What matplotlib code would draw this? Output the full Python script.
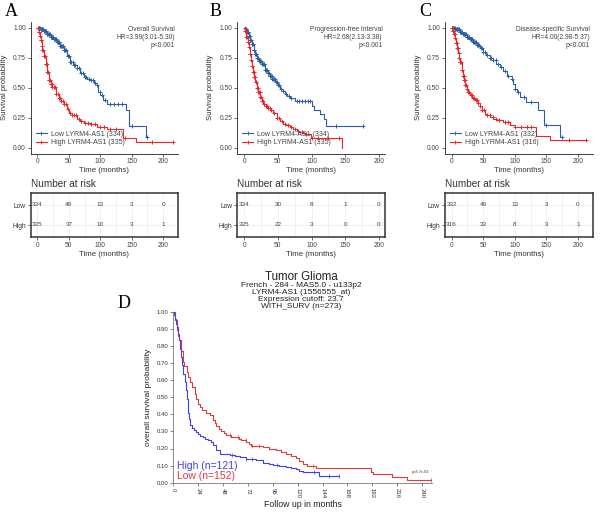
import numpy as np
import matplotlib
matplotlib.use("Agg")
import matplotlib.pyplot as plt
from matplotlib.lines import Line2D

plt.rcParams['font.family'] = ['Liberation Sans', 'DejaVu Sans']

W, H = 600, 512
fig = plt.figure(figsize=(6, 5.12), dpi=100)

def px_axes(l, t, r, b):
    return fig.add_axes([l / W, 1 - b / H, (r - l) / W, (b - t) / H])

BLUE = '#2a5fa3'
RED = '#e8262b'

# ---------------- DATA ----------------
# Panel A : Overall survival
A_low_t = [0, 5, 10, 15, 21, 26, 31, 36, 42, 47, 52, 57, 63, 68, 74, 79, 84, 90, 95, 97, 100, 105, 110, 141, 146, 173]
A_low_s = [1.0, 0.985, 0.97, 0.95, 0.925, 0.905, 0.883, 0.85, 0.81, 0.76, 0.715, 0.69, 0.66, 0.625, 0.59, 0.575, 0.56, 0.54, 0.52, 0.46, 0.435, 0.40, 0.366, 0.31, 0.18, 0.087]
A_low_end = 175
A_low_cens = [1, 2, 3, 4, 5, 6, 7, 8, 9, 10, 11, 12, 13, 14, 15, 16, 17, 18, 19, 20, 21, 22, 23, 24, 25, 26, 27, 28, 29, 30,
              31, 32, 33, 34, 35, 36, 37, 38, 39, 40, 41, 42, 43, 44, 46, 48, 50, 52, 54, 56, 58, 60, 63, 66, 70, 72,
              75, 78, 82, 86, 88, 92, 95, 99, 102, 107, 115, 122, 128, 135, 150, 175]
A_high_t = [0, 2, 4, 5, 7, 8, 10, 13, 16, 18, 21, 24, 29, 34, 38, 42, 47, 51, 55, 63, 68, 74, 84, 95, 110, 136, 157]
A_high_s = [1.0, 0.96, 0.93, 0.90, 0.85, 0.81, 0.76, 0.70, 0.63, 0.56, 0.53, 0.505, 0.45, 0.41, 0.385, 0.366, 0.324, 0.29, 0.268, 0.24, 0.22, 0.204, 0.193, 0.17, 0.156, 0.081, 0.045]
A_high_end = 215
A_high_cens = [1, 2, 3, 4, 5, 6, 7, 8, 9, 10, 11, 12, 13, 14, 15, 16, 17, 18, 19, 20, 21, 22, 23, 24, 26, 28, 30, 32, 34,
               36, 38, 40, 43, 46, 49, 52, 55, 58, 62, 66, 70, 75, 80, 86, 92, 100, 106, 115, 125, 140, 182, 215]
A_risk_low = [334, 49, 13, 3, 0]
A_risk_high = [335, 37, 10, 3, 1]

# Panel B : Progression-free interval
B_low_t = [0, 2, 4, 7, 9, 11, 14, 16, 19, 22, 26, 31, 35, 38, 42, 46, 50, 53, 57, 60, 64, 68, 75, 100, 104, 112, 118, 122]
B_low_s = [1.0, 0.985, 0.966, 0.93, 0.897, 0.86, 0.81, 0.78, 0.75, 0.725, 0.70, 0.645, 0.62, 0.60, 0.575, 0.547, 0.52, 0.49, 0.47, 0.45, 0.43, 0.413, 0.39, 0.35, 0.31, 0.28, 0.24, 0.176]
B_low_end = 176
B_low_cens = [1, 2, 3, 4, 5, 6, 7, 8, 9, 10, 11, 12, 13, 14, 15, 16, 17, 18, 19, 20, 21, 22, 23, 24, 25, 26, 27, 28, 29,
              30, 31, 32, 33, 34, 35, 36, 37, 38, 39, 40, 41, 42, 43, 44, 45, 47, 48, 50, 52, 55, 58, 62, 66, 70, 78,
              82, 86, 90, 95, 98, 136, 176]
B_high_t = [0, 1, 3, 5, 6.5, 8, 9.5, 11, 13, 14.7, 16.5, 18.6, 21, 23.5, 26, 28.4, 32, 35.8, 40, 43, 48, 53, 58, 62.7, 68, 72.5, 78, 82, 88, 92, 99.5, 145]
B_high_s = [1.0, 0.97, 0.925, 0.88, 0.84, 0.78, 0.73, 0.68, 0.63, 0.59, 0.547, 0.50, 0.46, 0.42, 0.39, 0.36, 0.35, 0.33, 0.31, 0.285, 0.25, 0.22, 0.20, 0.184, 0.17, 0.156, 0.14, 0.128, 0.12, 0.109, 0.081, 0.0]
B_high_end = 145
B_high_cens = [1, 2, 3, 4, 5, 6, 7, 8, 9, 10, 11, 12, 13, 14, 15, 16, 17, 18, 19, 20, 21, 22, 23, 24, 25, 26, 28, 30, 32,
               34, 36, 38, 40, 44, 48, 52, 56, 60, 65, 70, 75, 80, 86, 92, 100, 110, 125, 140]
B_risk_low = [334, 30, 8, 1, 0]
B_risk_high = [335, 22, 3, 0, 0]

# Panel C : Disease-specific survival
C_low_t = [0, 6, 13, 18, 24, 29, 34, 40, 45, 50, 55, 60, 66, 71, 76, 82, 87, 95, 97, 100, 103, 108, 118, 137, 146, 171]
C_low_s = [1.0, 0.985, 0.966, 0.945, 0.925, 0.905, 0.883, 0.855, 0.827, 0.80, 0.77, 0.75, 0.73, 0.70, 0.67, 0.635, 0.60, 0.575, 0.53, 0.49, 0.46, 0.42, 0.38, 0.31, 0.184, 0.087]
C_low_end = 175
C_low_cens = [1, 2, 3, 4, 5, 6, 7, 8, 9, 10, 11, 12, 13, 14, 15, 16, 17, 18, 19, 20, 21, 22, 23, 24, 25, 26, 27, 28, 29, 30,
              31, 32, 33, 34, 35, 36, 37, 38, 39, 40, 41, 42, 44, 46, 48, 50, 53, 56, 60, 63, 66, 70, 74, 78, 85, 90,
              95, 100, 105, 115, 125, 150, 175]
C_high_t = [0, 2, 3.7, 5.5, 7, 9, 10.5, 12, 13, 15.8, 17.5, 19.5, 21.5, 23.7, 26, 29, 33, 37, 41, 44.7, 48, 52.6, 56, 60.5, 66, 71, 81.6, 92, 100, 134, 155]
C_high_s = [1.0, 0.975, 0.95, 0.91, 0.87, 0.83, 0.785, 0.75, 0.715, 0.645, 0.60, 0.56, 0.525, 0.49, 0.46, 0.436, 0.415, 0.394, 0.37, 0.344, 0.31, 0.282, 0.27, 0.254, 0.24, 0.226, 0.212, 0.184, 0.17, 0.10, 0.064]
C_high_end = 213
C_high_cens = [1, 2, 3, 4, 5, 6, 7, 8, 9, 10, 11, 12, 13, 14, 15, 16, 17, 18, 19, 20, 21, 22, 23, 24, 26, 28, 30, 32, 34,
               36, 38, 40, 42, 45, 48, 52, 56, 60, 65, 70, 75, 85, 90, 100, 110, 120, 125, 185, 213]
C_risk_low = [332, 49, 13, 3, 0]
C_risk_high = [316, 33, 8, 3, 1]

risk_times = [0, 50, 100, 150, 200]

# Panel D : Tumor Glioma (KM plotter)
D_high_t = [0, 1, 2, 3, 3.9, 4.8, 5.8, 6.6, 7.4, 8.5, 9.6, 11, 12.2, 13, 13.8, 14.6, 15.5, 16.6, 18, 19.8, 22, 24, 26,
            28.8, 31, 33.6, 36, 38.4, 41, 44.8, 50, 54.4, 60, 64, 70, 73.6, 80, 86.4, 92, 96, 102, 108.8, 114, 118.4,
            121, 124.8, 140.5]
D_high_s = [1.0, 0.98, 0.96, 0.93, 0.91, 0.87, 0.833, 0.78, 0.735, 0.69, 0.637, 0.59, 0.54, 0.49, 0.44, 0.41, 0.375,
            0.34, 0.32, 0.31, 0.295, 0.284, 0.275, 0.265, 0.258, 0.25, 0.24, 0.22, 0.19, 0.17, 0.165, 0.16, 0.155,
            0.148, 0.14, 0.136, 0.13, 0.117, 0.11, 0.103, 0.098, 0.093, 0.085, 0.078, 0.07, 0.064, 0.039]
D_high_end = 160
D_high_cens = [57, 70, 76, 100, 136, 150, 160]
D_low_t = [0, 1.5, 3.2, 4.5, 5.8, 7.5, 9, 10.5, 12.9, 14.5, 16, 18, 20.9, 22.4, 24, 25.7, 28, 32, 35.2, 38.4, 40, 41.6,
           44, 46.4, 49, 51.2, 56, 60.8, 63, 65.6, 70.4, 73, 75.2, 86.4, 92, 99.2, 104, 108.8, 114, 118.4, 121, 124.8,
           129, 138, 190.4, 192.5, 210.7, 225]
D_low_s = [1.0, 0.95, 0.892, 0.86, 0.833, 0.77, 0.706, 0.68, 0.647, 0.62, 0.59, 0.56, 0.52, 0.49, 0.46, 0.44, 0.425,
           0.41, 0.395, 0.366, 0.35, 0.33, 0.315, 0.30, 0.29, 0.278, 0.27, 0.265, 0.258, 0.25, 0.24, 0.228, 0.214,
           0.206, 0.198, 0.19, 0.18, 0.167, 0.155, 0.142, 0.125, 0.11, 0.097, 0.084, 0.064, 0.049, 0.031, 0.016]
D_low_end = 249
D_low_cens = [55, 62, 70, 76, 83, 135, 249]
D_xticks = [0, 24, 48, 72, 96, 120, 144, 168, 192, 216, 240]
D_yticks = [0.0, 0.1, 0.2, 0.3, 0.4, 0.5, 0.6, 0.7, 0.8, 0.9, 1.0]


def step_val(t, s, x):
    t = np.asarray(t); s = np.asarray(s)
    idx = np.searchsorted(t, x, side='right') - 1
    return s[idx]


def km_panel(left, right, xlim, curves, title_lines, legend_labels, risk_low, risk_high, letter, letter_x):
    ax = px_axes(left, 21.7, right, 153.5)
    for (t, s, end, cens, col) in curves:
        tt = list(t) + [end]
        ss = list(s) + [s[-1]]
        ax.step(tt, ss, where='post', color=col, lw=0.8)
        cy = step_val(t, s, np.asarray(cens, dtype=float))
        ax.plot(cens, cy, ls='none', marker='+', ms=3.4, mew=0.7, color=col)
    ax.set_xlim(*xlim)
    ax.set_ylim(-0.05, 1.05)
    ax.set_xticks(risk_times)
    ax.set_yticks([0, 0.25, 0.5, 0.75, 1.0])
    ax.set_yticklabels(['0.00', '0.25', '0.50', '0.75', '1.00'])
    for sp in ['top', 'right']:
        ax.spines[sp].set_visible(False)
    for sp in ['left', 'bottom']:
        ax.spines[sp].set_linewidth(0.6)
        ax.spines[sp].set_color('#222222')
    ax.tick_params(labelsize=4.8, length=2, width=0.5, pad=1.5, colors='#333333', labelcolor='#444444')
    ax.set_xlabel('Time (months)', fontsize=5.6, labelpad=1.5, color='#333333')
    ax.set_ylabel('Survival probability', fontsize=5.6, color='#333333')
    ax.yaxis.set_label_coords(-0.155, 0.5)
    for i, line in enumerate(title_lines):
        ax.text(0.98, 0.943 - i * 0.062, line, transform=ax.transAxes, ha='right', va='center',
                fontsize=4.8, color='#444444')
    handles = [Line2D([], [], color=BLUE, marker='+', ms=3.2, mew=0.6, lw=0.8),
               Line2D([], [], color=RED, marker='+', ms=3.2, mew=0.6, lw=0.8)]
    ax.legend(handles, legend_labels, loc='lower left', bbox_to_anchor=(0.0, 0.02), frameon=False,
              fontsize=5.0, handlelength=1.6, handletextpad=0.6, labelspacing=0.2, borderaxespad=0.3,
              labelcolor='#444444')
    fig.text(letter_x / W, 1 - 12 / H, letter, fontsize=13, family='Liberation Serif', va='center', ha='center')

    # risk table
    rt = px_axes(left, 193, right, 237)
    rt.set_xlim(*xlim)
    rt.set_ylim(0.4, 2.6)
    for x in [0, 25, 50, 75, 100, 125, 150, 175, 200]:
        rt.axvline(x, color='#ececec', lw=0.5, zorder=0)
    for y in [1, 2]:
        rt.axhline(y, color='#ececec', lw=0.5, zorder=0)
    for x, v in zip(risk_times, risk_low):
        rt.text(x, 2, str(v), ha='center', va='center', fontsize=4.6, color='#444444')
    for x, v in zip(risk_times, risk_high):
        rt.text(x, 1, str(v), ha='center', va='center', fontsize=4.6, color='#444444')
    rt.set_yticks([2, 1])
    rt.set_yticklabels(['Low', 'High'])
    rt.get_yticklabels()[0].set_color('#3a74b6')
    rt.get_yticklabels()[1].set_color(RED)
    rt.set_xticks(risk_times)
    for sp in rt.spines.values():
        sp.set_linewidth(1.1)
        sp.set_color('#333333')
    rt.tick_params(labelsize=4.8, length=2, width=0.5, pad=1.5, colors='#333333')
    rt.tick_params(axis='x', labelcolor='#444444')
    rt.set_xlabel('Time (months)', fontsize=5.6, labelpad=1.5, color='#333333')
    rt.text(0.0, 1.2, 'Number at risk', transform=rt.transAxes, ha='left', va='center', fontsize=7.2,
            color='#333333')


km_panel(30.7, 178, (-10.6, 223.5),
         [(A_low_t, A_low_s, A_low_end, A_low_cens, BLUE), (A_high_t, A_high_s, A_high_end, A_high_cens, RED)],
         ['Overall Survival', 'HR=3.99(3.01-5.30)', 'p<0.001'],
         ['Low LYRM4-AS1 (334)', 'High LYRM4-AS1 (335)'], A_risk_low, A_risk_high, 'A', 11.5)
km_panel(237.3, 385.4, (-10.2, 209.5),
         [(B_low_t, B_low_s, B_low_end, B_low_cens, BLUE), (B_high_t, B_high_s, B_high_end, B_high_cens, RED)],
         ['Progression-free Interval', 'HR=2.68(2.13-3.38)', 'p<0.001'],
         ['Low LYRM4-AS1 (334)', 'High LYRM4-AS1 (335)'], B_risk_low, B_risk_high, 'B', 215.5)
km_panel(444.7, 593, (-10.9, 223.7),
         [(C_low_t, C_low_s, C_low_end, C_low_cens, BLUE), (C_high_t, C_high_s, C_high_end, C_high_cens, RED)],
         ['Disease-specific Survival', 'HR=4.00(2.98-5.37)', 'p<0.001'],
         ['Low LYRM4-AS1 (332)', 'High LYRM4-AS1 (316)'], C_risk_low, C_risk_high, 'C', 425.6)

# ---------------- Panel D ----------------
DBLUE = '#4040e8'
DRED = '#e03a3a'
axd = px_axes(173.2, 311.7, 432, 482.7)
for (t, s, end, cens, col) in [(D_low_t, D_low_s, D_low_end, D_low_cens, DRED),
                               (D_high_t, D_high_s, D_high_end, D_high_cens, DBLUE)]:
    tt = list(t) + [end]
    ss = list(s) + [s[-1]]
    axd.step(tt, ss, where='post', color=col, lw=0.8, clip_on=False)
    cy = step_val(t, s, np.asarray(cens, dtype=float))
    axd.plot(cens, cy, ls='none', marker='|', ms=2.5, mew=0.5, color=col, clip_on=False)
axd.set_xlim(0, 249.5)
axd.set_ylim(0, 1.0)
axd.set_xticks(D_xticks)
axd.set_xticklabels([str(v) for v in D_xticks], rotation=-90)
axd.set_yticks(D_yticks)
axd.set_yticklabels(['%.2f' % v for v in D_yticks])
for sp in ['top', 'right']:
    axd.spines[sp].set_visible(False)
for sp in ['left', 'bottom']:
    axd.spines[sp].set_linewidth(0.6)
    axd.spines[sp].set_color('#777777')
axd.tick_params(labelsize=4.3, length=2, width=0.5, pad=1.5, colors='#555555', labelcolor='#333333')
axd.set_xlabel('Follow up in months', fontsize=6.3, labelpad=2, color='#222222')
axd.set_ylabel('overall survival probability', fontsize=6.0, color='#222222')
axd.yaxis.set_label_coords(-0.082, 0.5)
axd.text(0.015, 0.1, 'High (n=121)', transform=axd.transAxes, color=DBLUE, fontsize=7.5, ha='left', va='center')
axd.text(0.015, 0.038, 'Low (n=152)', transform=axd.transAxes, color=DRED, fontsize=7.5, ha='left', va='center')
axd.text(0.955, 0.06, 'p=8.7e-03', transform=axd.transAxes, fontsize=2.8, ha='center', va='center', color='#333333')

fig.text(301 / W, 1 - 277 / H, 'Tumor Glioma', fontsize=8.3, ha='center', va='center', color='#222222')
for i, line in enumerate(['French - 284 - MAS5.0 - u133p2', 'LYRM4-AS1 (1556555_at)',
                          'Expression cutoff: 23.7', 'WITH_SURV (n=273)']):
    fig.text(301 / W, 1 - (285.2 + i * 7.0) / H, line, fontsize=6.0, ha='center', va='center', color='#222222')
fig.text(124.5 / W, 1 - 303.5 / H, 'D', fontsize=13, family='Liberation Serif', va='center', ha='center')

fig.savefig('out.png', dpi=100)
